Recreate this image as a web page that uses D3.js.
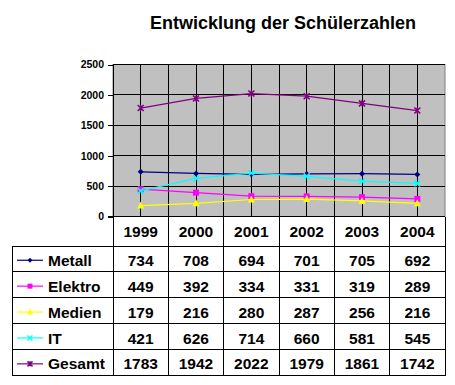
<!DOCTYPE html>
<html>
<head>
<meta charset="utf-8">
<script src="https://cdn.jsdelivr.net/npm/d3@7"></script>
<style>
body{margin:0;background:#fff}
text{font-family:"Liberation Sans",Arial,sans-serif}
</style>
</head>
<body>
<svg id="chart"></svg>
<script>
var screen = {width:455,height:385}
var plot = {left:113,right:445,top:64.5,bottom:216.5}

var years = ["1999","2000","2001","2002","2003","2004"]
var names = ["Metall","Elektro","Medien","IT","Gesamt"]
var metall = [734,708,694,701,705,692]
var elektro = [449,392,334,331,319,289]
var medien = [179,216,280,287,256,216]
var it = [421,626,714,660,581,545]
var gesamt = [1783,1942,2022,1979,1861,1742]
var yTicks = [0,500,1000,1500,2000,2500]

var colors = ["#000080","#FF00FF","#FFFF00","#00FFFF","#800080"]
var shapes = ["diamond","square","triangle","x","star"]
var series = [metall,elektro,medien,it,gesamt].map(function(vals,i)
{
    return {name:names[i],values:vals,color:colors[i],shape:shapes[i]}
})

var svg = d3.select("#chart")
    .attr("width",screen.width)
    .attr("height",screen.height)

var xScale = d3.scaleBand()
    .domain(years)
    .range([plot.left,plot.right])
var yScale = d3.scaleLinear()
    .domain([0,2500])
    .range([plot.bottom,plot.top])

// title
svg.append("text")
   .attr("x",283).attr("y",29)
   .attr("text-anchor","middle")
   .attr("font-size","18px")
   .attr("font-weight","bold")
   .text("Entwicklung der Schülerzahlen")

// plot background
svg.append("rect")
   .attr("x",plot.left).attr("y",plot.top)
   .attr("width",plot.right-plot.left)
   .attr("height",plot.bottom-plot.top)
   .attr("fill","#C0C0C0")
   .attr("stroke","#808080")

var grid = svg.append("g").attr("shape-rendering","crispEdges")
grid.selectAll("line.h")
    .data(yTicks.slice(1))
    .enter().append("line")
    .attr("x1",plot.left).attr("x2",plot.right)
    .attr("y1",function(d){return yScale(d)})
    .attr("y2",function(d){return yScale(d)})
    .attr("stroke","#000")
var vx = []
years.forEach(function(y,i)
{
    vx.push(xScale(y)+xScale.bandwidth()/2)
    if(i>0) vx.push(xScale(y))
})
grid.selectAll("line.v")
    .data(vx)
    .enter().append("line")
    .attr("x1",function(d){return d}).attr("x2",function(d){return d})
    .attr("y1",plot.top).attr("y2",plot.bottom)
    .attr("stroke","#000")

// y axis
var yAxis = d3.axisLeft(yScale).tickValues(yTicks).tickSize(5).tickFormat(d3.format("d"))
var ya = svg.append("g")
   .attr("transform","translate("+plot.left+",0)")
   .attr("shape-rendering","crispEdges")
   .call(yAxis)
ya.select(".domain").remove()
ya.append("line")
  .attr("x1",0).attr("x2",0)
  .attr("y1",plot.top).attr("y2",plot.bottom)
  .attr("stroke","#000")
ya.selectAll(".tick line").attr("stroke","#000")
ya.selectAll(".tick text")
  .attr("font-family","Liberation Sans, Arial, sans-serif")
  .attr("font-size","10.5px")
  .attr("font-weight","bold")
  .attr("fill","#000")
  .attr("x",-9)

// marker
var drawMarker = function(g,shape,color,s)
{
    if(shape=="diamond")
        g.append("path").attr("d","M0,"+(-s)+"L"+s+",0L0,"+s+"L"+(-s)+",0Z").attr("fill",color)
    else if(shape=="square")
        g.append("rect").attr("x",-s).attr("y",-s).attr("width",2*s).attr("height",2*s).attr("fill",color)
    else if(shape=="triangle")
        g.append("path").attr("d","M0,"+(-s-1)+"L"+(s+0.5)+","+s+"L"+(-s-0.5)+","+s+"Z").attr("fill",color)
    else if(shape=="x")
        g.append("path").attr("d","M"+(-s)+","+(-s)+"L"+s+","+s+"M"+s+","+(-s)+"L"+(-s)+","+s)
         .attr("stroke",color).attr("stroke-width",1.5)
    else
        g.append("path").attr("d","M"+(-s)+","+(-s)+"L"+s+","+s+"M"+s+","+(-s)+"L"+(-s)+","+s+"M0,"+(-s)+"L0,"+s)
         .attr("stroke",color).attr("stroke-width",1.5)
}

var line = d3.line()
    .x(function(d,i){return xScale(years[i])+xScale.bandwidth()/2})
    .y(function(d){return yScale(d)})

series.forEach(function(ser)
{
    svg.append("path")
       .datum(ser.values)
       .attr("d",line)
       .attr("fill","none")
       .attr("stroke",ser.color)
       .attr("stroke-width",1.2)
    ser.values.forEach(function(v,i)
    {
        var g = svg.append("g")
           .attr("transform","translate("+(xScale(years[i])+xScale.bandwidth()/2)+","+yScale(v)+")")
        drawMarker(g,ser.shape,ser.color,3)
    })
})

// x axis line
svg.append("line")
   .attr("x1",plot.left-5).attr("x2",plot.right)
   .attr("y1",plot.bottom).attr("y2",plot.bottom)
   .attr("stroke","#000")
   .attr("shape-rendering","crispEdges")

// data table
var tbl = {left:12,headerBottom:246,bottom:375.5}
var rowH = (tbl.bottom-tbl.headerBottom)/names.length
var table = svg.append("g").attr("shape-rendering","crispEdges")
var bounds = years.map(function(y){return xScale(y)}).concat([plot.right])
table.selectAll("line.col")
    .data(bounds)
    .enter().append("line")
    .attr("x1",function(d){return d}).attr("x2",function(d){return d})
    .attr("y1",plot.bottom).attr("y2",tbl.bottom)
    .attr("stroke","#000")
table.append("line")
    .attr("x1",tbl.left).attr("x2",tbl.left)
    .attr("y1",tbl.headerBottom).attr("y2",tbl.bottom)
    .attr("stroke","#000")
var rowLines = d3.range(names.length+1).map(function(i){return tbl.headerBottom+i*rowH})
table.selectAll("line.row")
    .data(rowLines)
    .enter().append("line")
    .attr("x1",tbl.left).attr("x2",plot.right)
    .attr("y1",function(d){return d}).attr("y2",function(d){return d})
    .attr("stroke","#000")

svg.selectAll("text.year")
   .data(years)
   .enter().append("text")
   .attr("x",function(d){return xScale(d)+xScale.bandwidth()/2})
   .attr("y",(plot.bottom+tbl.headerBottom)/2+5.8)
   .attr("text-anchor","middle")
   .attr("font-size","15.5px")
   .attr("font-weight","bold")
   .text(function(d){return d})

series.forEach(function(ser,r)
{
    var cy = tbl.headerBottom+r*rowH+rowH/2+1.3
    svg.append("line")
       .attr("x1",17).attr("x2",43)
       .attr("y1",cy).attr("y2",cy)
       .attr("stroke",ser.color)
       .attr("stroke-width",1.2)
    drawMarker(svg.append("g").attr("transform","translate(30,"+cy+")"),ser.shape,ser.color,2.5)
    svg.append("text")
       .attr("x",48).attr("y",cy+5.6)
       .attr("font-size","15.5px")
       .attr("font-weight","bold")
       .text(ser.name)
    svg.selectAll(null)
       .data(ser.values)
       .enter().append("text")
       .attr("x",function(d,i){return xScale(years[i])+xScale.bandwidth()/2})
       .attr("y",cy+5.6)
       .attr("text-anchor","middle")
       .attr("font-size","15.5px")
       .attr("font-weight","bold")
       .text(function(d){return d})
})
</script>
</body>
</html>
